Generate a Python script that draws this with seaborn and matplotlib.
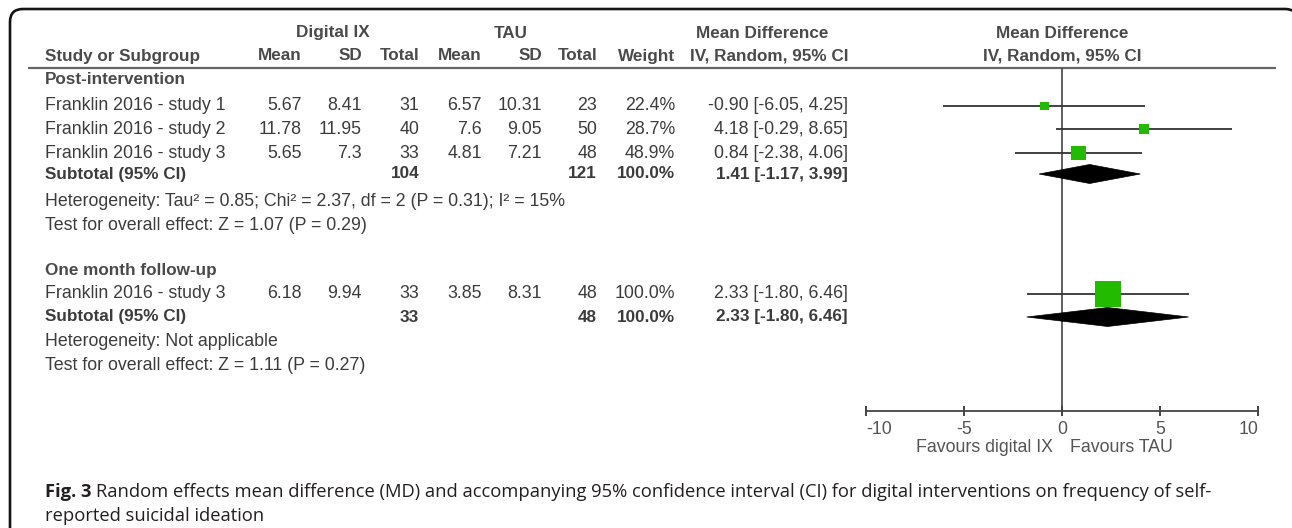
import numpy as np
import pandas as pd
import matplotlib
matplotlib.use("Agg")
import matplotlib.pyplot as plt
from matplotlib.patches import Polygon
from matplotlib.path import Path
from matplotlib.patches import PathPatch
import seaborn as sns

# ---- study-level data -------------------------------------------------------
studies = ["Franklin 2016 - study 1", "Franklin 2016 - study 2", "Franklin 2016 - study 3"]
dig_mean = [5.67, 11.78, 5.65]
dig_sd = [8.41, 11.95, 7.3]
dig_n = [31, 40, 33]
tau_mean = [6.57, 7.6, 4.81]
tau_sd = [10.31, 9.05, 7.21]
tau_n = [23, 50, 48]
weights = [22.4, 28.7, 48.9]
md = [-0.90, 4.18, 0.84]
md_lo = [-6.05, -0.29, -2.38]
md_hi = [4.25, 8.65, 4.06]

# pooled post-intervention estimate
sub1_n = [104, 121]
sub1_md = [1.41, -1.17, 3.99]
het1 = "Heterogeneity: Tau\u00b2 = 0.85; Chi\u00b2 = 2.37, df = 2 (P = 0.31); I\u00b2 = 15%"
test1 = "Test for overall effect: Z = 1.07 (P = 0.29)"

# one month follow-up
fu_study = ["Franklin 2016 - study 3"]
fu_dig_mean = [6.18]
fu_dig_sd = [9.94]
fu_dig_n = [33]
fu_tau_mean = [3.85]
fu_tau_sd = [8.31]
fu_tau_n = [48]
fu_weights = [100.0]
fu_md = [2.33]
fu_lo = [-1.80]
fu_hi = [6.46]
sub2_n = [33, 48]
sub2_md = [2.33, -1.80, 6.46]
het2 = "Heterogeneity: Not applicable"
test2 = "Test for overall effect: Z = 1.11 (P = 0.27)"

x_ticks = [-10, -5, 0, 5, 10]
favour_left = "Favours digital IX"
favour_right = "Favours TAU"
caption_label = "Fig. 3"
caption_1 = ("Random effects mean difference (MD) and accompanying 95% "
             "confidence interval (CI) for digital interventions on frequency of self-")
caption_2 = "reported suicidal ideation"

# ---- figure set-up ----------------------------------------------------------
sns.set_style("white")
plt.rcParams["font.family"] = ["Liberation Sans", "DejaVu Sans"]

W, H = 1292, 528
fig = plt.figure(figsize=(W / 100, H / 100), dpi=100)
fig.patch.set_facecolor("white")

# full-figure layer in pixel units for the table
tx = fig.add_axes([0, 0, 1, 1])
tx.set_xlim(0, W)
tx.set_ylim(H, 0)
tx.axis("off")

FS = 12.8
FS_B = 12.3
TXT = "#3c3c3c"
HDR = "#4a4a4a"

# column right edges
c_mean1, c_sd1, c_n1 = 302, 362, 419
c_mean2, c_sd2, c_n2 = 482, 542, 597
c_w, c_ci = 675, 848
x_left = 45


def put(x, y, s, ha="right", bold=False, color=TXT):
    return tx.text(x, y, s, ha=ha, va="center", fontsize=FS_B if bold else FS,
                   fontweight="bold" if bold else "normal", color=color)


def fmt_ci(v):
    return f"{v[0]:.2f} [{v[1]:.2f}, {v[2]:.2f}]"


# header rows
y_h1, y_h2 = 33, 56
put(333, y_h1, "Digital IX", ha="center", bold=True, color=HDR)
put(511, y_h1, "TAU", ha="center", bold=True, color=HDR)
put(762, y_h1, "Mean Difference", ha="center", bold=True, color=HDR)
put(1062, y_h1, "Mean Difference", ha="center", bold=True, color=HDR)
put(x_left, y_h2, "Study or Subgroup", ha="left", bold=True, color=HDR)
for x, lab in [(c_mean1, "Mean"), (c_sd1, "SD"), (c_n1, "Total"),
               (c_mean2, "Mean"), (c_sd2, "SD"), (c_n2, "Total"),
               (c_w, "Weight"), (c_ci, "IV, Random, 95% CI")]:
    put(x, y_h2, lab, bold=True, color=HDR)
put(1062, y_h2, "IV, Random, 95% CI", ha="center", bold=True, color=HDR)
tx.plot([28, 1276], [68, 68], color="#666666", lw=1.6, solid_capstyle="butt")

# post-intervention block
rows1 = [106, 129, 153]
y_sub1 = 174
put(x_left, 80, "Post-intervention", ha="left", bold=True, color=HDR)
for i, y in enumerate(rows1):
    put(x_left, y, studies[i], ha="left")
    put(c_mean1, y, f"{dig_mean[i]:g}")
    put(c_sd1, y, f"{dig_sd[i]:g}")
    put(c_n1, y, f"{dig_n[i]}")
    put(c_mean2, y, f"{tau_mean[i]:g}")
    put(c_sd2, y, f"{tau_sd[i]:g}")
    put(c_n2, y, f"{tau_n[i]}")
    put(c_w, y, f"{weights[i]:.1f}%")
    put(c_ci, y, fmt_ci([md[i], md_lo[i], md_hi[i]]))
put(x_left, y_sub1, "Subtotal (95% CI)", ha="left", bold=True)
put(c_n1, y_sub1, f"{sub1_n[0]}", bold=True)
put(c_n2, y_sub1, f"{sub1_n[1]}", bold=True)
put(c_w, y_sub1, f"{sum(weights):.1f}%", bold=True)
put(c_ci, y_sub1, fmt_ci(sub1_md), bold=True)
put(x_left, 201, het1, ha="left")
put(x_left, 226, test1, ha="left")

# follow-up block
rows2 = [294]
y_sub2 = 317
put(x_left, 270, "One month follow-up", ha="left", bold=True, color=HDR)
for i, y in enumerate(rows2):
    put(x_left, y, fu_study[i], ha="left")
    put(c_mean1, y, f"{fu_dig_mean[i]:g}")
    put(c_sd1, y, f"{fu_dig_sd[i]:g}")
    put(c_n1, y, f"{fu_dig_n[i]}")
    put(c_mean2, y, f"{fu_tau_mean[i]:g}")
    put(c_sd2, y, f"{fu_tau_sd[i]:g}")
    put(c_n2, y, f"{fu_tau_n[i]}")
    put(c_w, y, f"{fu_weights[i]:.1f}%")
    put(c_ci, y, fmt_ci([fu_md[i], fu_lo[i], fu_hi[i]]))
put(x_left, y_sub2, "Subtotal (95% CI)", ha="left", bold=True)
put(c_n1, y_sub2, f"{sub2_n[0]}", bold=True)
put(c_n2, y_sub2, f"{sub2_n[1]}", bold=True)
put(c_w, y_sub2, f"{sum(fu_weights):.1f}%", bold=True)
put(c_ci, y_sub2, fmt_ci(sub2_md), bold=True)
put(x_left, 342, het2, ha="left")
put(x_left, 366, test2, ha="left")

# favours labels under the axis
put(1053, 447, favour_left, ha="right", color="#555555")
put(1070, 447, favour_right, ha="left", color="#555555")

# caption: bold figure label followed by regular text on the same baseline
CAP_FS = 13.2
CAP_COL = "#231f20"
lab = tx.text(x_left, 497, caption_label, ha="left", va="baseline", fontsize=CAP_FS,
              family=["Open Sans", "DejaVu Sans"], fontweight="bold", color=CAP_COL)
renderer = fig.canvas.get_renderer()
bb = lab.get_window_extent(renderer=renderer)
x_after = tx.transData.inverted().transform((bb.x1, 0))[0] + 5
tx.text(x_after, 497, caption_1, ha="left", va="baseline", fontsize=CAP_FS,
        family=["Open Sans", "DejaVu Sans"], color=CAP_COL)
tx.text(x_left, 521, caption_2, ha="left", va="baseline", fontsize=CAP_FS,
        family=["Open Sans", "DejaVu Sans"], color=CAP_COL)

# frame: left and top edges with rounded corners; the right corner only
# begins to turn before the edge of the image
r = 13
fl, ft, fr = 10, 9, 1298
verts = [(fl, H + 20), (fl, ft + r), (fl, ft), (fl + r, ft),
         (fr - r, ft), (fr, ft), (fr, ft + r)]
codes = [Path.MOVETO, Path.LINETO, Path.CURVE3, Path.CURVE3,
         Path.LINETO, Path.CURVE3, Path.CURVE3]
tx.add_patch(PathPatch(Path(verts, codes), fill=False, ec="#141414", lw=1.9))

# ---- forest plot ------------------------------------------------------------
ax_l, ax_r = 866, 1258
fx = fig.add_axes([ax_l / W, 0, (ax_r - ax_l) / W, 1])
fx.set_xlim(-10, 10)
fx.set_ylim(H, 0)
fx.patch.set_alpha(0)
for s in ["top", "left", "right"]:
    fx.spines[s].set_visible(False)
fx.spines["bottom"].set_position(("data", 411))
fx.spines["bottom"].set_color("#444444")
fx.spines["bottom"].set_linewidth(1.3)
fx.set_yticks([])
fx.set_xticks(x_ticks)
fx.set_xticklabels([str(t) for t in x_ticks])
fx.tick_params(axis="x", bottom=True, direction="inout", length=7, width=1.4,
               color="#444444", labelsize=FS, labelcolor="#555555", pad=3.5)
lbls = fx.get_xticklabels()
lbls[0].set_ha("left")
lbls[-1].set_ha("right")

# line of no effect
fx.vlines(0, 68, 411, color="#444444", lw=1.2)

# individual studies: CI whiskers and weighted squares
df = pd.DataFrame({
    "md": md + fu_md,
    "lo": md_lo + fu_lo,
    "hi": md_hi + fu_hi,
    "w": weights + fu_weights,
    "row": rows1 + rows2,
})
fx.hlines(df["row"], df["lo"], df["hi"], color="#333333", lw=1.3)
side_pt = (4 + 22 * df["w"] / 100) * 0.72
sns.scatterplot(data=df, x="md", y="row", marker="s", color="#22bb00",
                s=side_pt ** 2, linewidth=0, ax=fx, legend=False, zorder=3)
fx.set_xlabel("")
fx.set_ylabel("")

# pooled diamonds
for est, y in [(sub1_md, y_sub1), (sub2_md, y_sub2)]:
    pts = [(est[1], y), (est[0], y - 9.5), (est[2], y), (est[0], y + 9.5)]
    fx.add_patch(Polygon(pts, closed=True, fc="black", ec="black", lw=0.5, zorder=4))

fig.savefig("out.png", dpi=100, facecolor="white")
